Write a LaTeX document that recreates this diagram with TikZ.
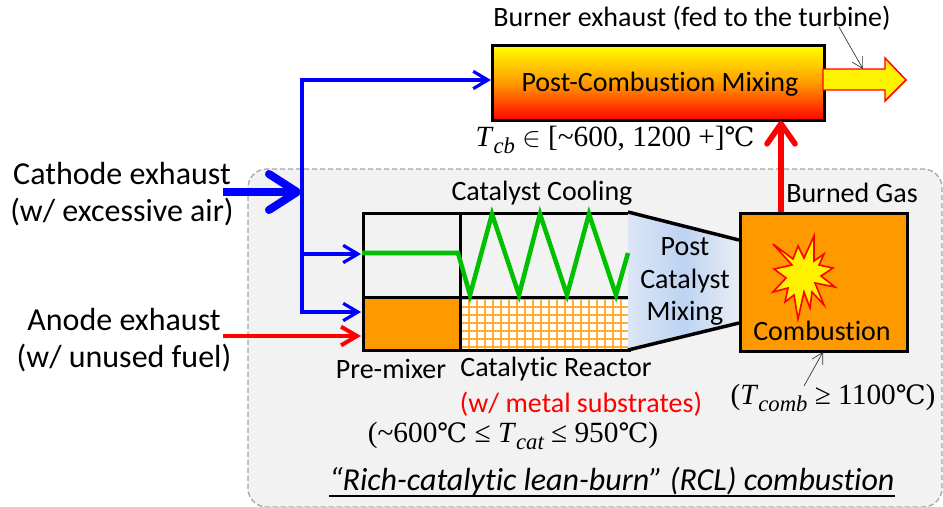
\documentclass[tikz,border=0pt]{standalone}
\usepackage{fontspec}
\setmainfont{Carlito}[Ligatures=NoCommon]
\newfontfamily\serifm{Liberation Serif}
\newfontfamily\degfont{DejaVu Serif}
\usetikzlibrary{arrows.meta,positioning}
\definecolor{panelgray}{HTML}{F2F2F2}
\definecolor{dashgray}{HTML}{A6A6A6}
\definecolor{fuelorange}{HTML}{FF9900}
\definecolor{flowblue}{HTML}{0000FF}
\definecolor{coolgreen}{HTML}{00C000}
\definecolor{mixblue}{HTML}{BDD3F2}
\definecolor{mixpale}{HTML}{DCE6F6}
\newcommand{\degC}{{\degfont\fontsize{20}{22}\selectfont ℃}}
\newcommand{\Tsub}[1]{\textit{T}\raisebox{-0.22em}{\fontsize{17}{17}\selectfont\itshape #1}}
\tikzset{
  x=0.75pt,y=-0.75pt,
  big text/.style={inner sep=0pt,font=\fontsize{24}{28}\selectfont,align=center},
  label text/.style={inner sep=0pt,font=\fontsize{21}{25}\selectfont,align=center},
  math text/.style={inner sep=0pt,font=\serifm\fontsize{22}{26}\selectfont},
  block/.style={draw=black,line width=2.6pt,inner sep=0pt,anchor=north west},
  blue flow/.style={draw=flowblue,line width=2.4pt,-{Straight Barb[length=11pt,width=13pt,line width=2.4pt]}},
  blue line/.style={draw=flowblue,line width=2.4pt},
  red flow/.style={draw=red,line width=4.2pt,-{Straight Barb[length=15pt,width=21pt,line width=4.2pt,round]}},
  thin arrow/.style={draw=black!80,line width=0.5pt,-{Straight Barb[length=8pt,width=9pt,line width=0.5pt]}},
}
\begin{document}
\begin{tikzpicture}
\useasboundingbox (0,0) rectangle (943,507);
% panel
\draw[fill=panelgray,draw=dashgray,line width=1pt,dash pattern=on 4pt off 2pt,rounded corners=14pt] (248,169) rectangle (942,507);
% burner
\node[block,minimum width=249pt,minimum height=56.25pt,top color=yellow,bottom color=red,middle color=fuelorange] (burner) at (491,44) {};
\node[label text] (burnertxt) at (660,84) {Post-Combustion Mixing};
% reactor blocks
\node[block,minimum width=72.75pt,minimum height=63pt] (cool1) at (362,212) {};
\node[block,minimum width=126.75pt,minimum height=63pt] (cool2) at (459,212) {};
\node[block,minimum width=72.75pt,minimum height=39.75pt,fill=fuelorange] (premix) at (362,296) {};
\fill[white] (459,296) rectangle (628,349);
\begin{scope}
\clip (459,296) rectangle (628,349);
\foreach \gx in {461,469,...,629}{\draw[fuelorange!80,line width=1.9pt] (\gx,296) -- (\gx,349);}
\foreach \gy in {299,307,...,349}{\draw[fuelorange!80,line width=1.9pt] (459,\gy) -- (628,\gy);}
\end{scope}
\node[block,minimum width=126.75pt,minimum height=39.75pt] (cat) at (459,296) {};
% mixing trapezoid
\begin{scope}
\clip (628,212) -- (739,240) -- (739,323) -- (628,350) -- cycle;
\shade[left color=mixpale,right color=panelgray!60!mixpale,middle color=mixblue] (628,212) rectangle (739,350);
\end{scope}
\draw[line width=2.6pt] (628,212) -- (739,240) (739,323) -- (628,350);
% combustion
\node[block,minimum width=125.25pt,minimum height=103.5pt,fill=fuelorange] (comb) at (739,212) {};
% cooling line
\draw[coolgreen,line width=3.4pt,line join=miter] (362,253) -- (458,253) -- (470,295) -- (492,214) -- (519,295) -- (540,214) -- (567,295) -- (589,214) -- (616,295) -- (628,253);
% star
\draw[red,fill=yellow,line width=1.2pt,line join=miter] (773,244) -- (793,259) -- (798,246) -- (804,258) -- (814,236) -- (814,261) -- (824,254) -- (819,265) -- (833,268) -- (821,276) -- (835,287) -- (815,283) -- (824,305) -- (812,292) -- (810,308) -- (804,292) -- (798,319) -- (794,295) -- (785,302) -- (788,288) -- (773,292) -- (786,278) -- (774,269) -- (792,265) -- cycle;
% connectors
\coordinate (bustop) at (302,80);
\coordinate (busbot) at (302,312);
\coordinate (catin) at (223,192);
\coordinate (busin) at (301,192);
\coordinate (anin) at (223,336);
\coordinate (busmid) at (302,254);
\draw[blue line,line cap=rect] (bustop) -- (busbot);
\draw[blue flow] (bustop) -- (burner.west |- bustop);
\draw[blue flow] (busmid) -- (361,254);
\draw[blue flow] (busbot) -- (361,312);
\draw[flowblue,line width=6pt,-{Straight Barb[length=21pt,width=27pt,line width=6pt,round]}] (catin) -- (busin);
\draw[draw=red,line width=3pt,-{Straight Barb[length=12pt,width=14pt,line width=3pt]}] (anin) -- (361,336);
\draw[red flow] (781,212) -- (781,121);
% exhaust arrow
\draw[red,fill=yellow,line width=1.1pt,line join=miter] (823,69) -- (885,69) -- (885,58) -- (906,80) -- (885,101) -- (885,90) -- (823,90) -- cycle;
\coordinate (ex1) at (839,27);
\coordinate (ex2) at (863,69);
\draw[thin arrow] (ex1) -- (ex2);
\coordinate (cb1) at (804,386);
\coordinate (cb2) at (823,352);
\draw[thin arrow] (cb1) -- (cb2);
% labels
\node[label text] (t1) at (692,18) {Burner exhaust (fed to the turbine)};
\node[math text] (t2) at (615,140) {\Tsub{cb} $\in$ [\char`\~600, 1200 +]\degC};
\node[big text] (t3) at (122,174) {Cathode exhaust};
\node[big text] (t4) at (122,212) {(w/ excessive air)};
\node[big text] (t5) at (124,320) {Anode exhaust};
\node[big text] (t6) at (124,358) {(w/ unused fuel)};
\node[label text] (t7) at (542,193) {Catalyst Cooling};
\node[label text] (t8) at (852,193) {Burned Gas};
\node[label text] (t9) at (685,247) {Post};
\node[label text] (t10) at (685,281) {Catalyst};
\node[label text] (t11) at (685,313) {Mixing};
\node[label text] (t12) at (822,331) {Combustion};
\node[label text] (t13) at (391,369) {Pre-mixer};
\node[label text] (t14) at (556,369) {Catalytic Reactor};
\node[label text,text=red] (t15) at (581,404) {(w/ metal substrates)};
\node[math text] (t16) at (513,436) {(\char`\~600\degC\ ≤ \Tsub{cat} ≤ 950\degC)};
\node[math text] (t17) at (833,398) {(\Tsub{comb} ≥ 1100\degC)};
\node[big text] (t18) at (612,481) {\itshape “Rich-catalytic lean-burn” (RCL) combustion};
\draw[line width=1.4pt] (t18.west |- 0,496) -- (t18.east |- 0,496);
\end{tikzpicture}
\end{document}
